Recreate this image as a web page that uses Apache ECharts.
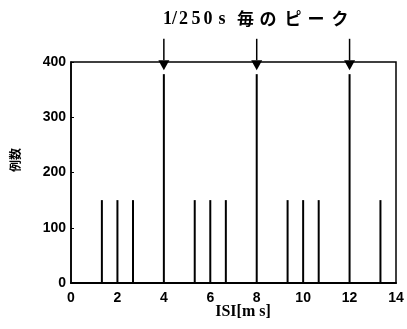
<!DOCTYPE html>
<html>
<head>
<meta charset="utf-8">
<script src="https://cdn.jsdelivr.net/npm/echarts@6/dist/echarts.min.js"></script>
<style>html,body{margin:0;padding:0;background:#fff}#c{width:407px;height:329px}</style>
</head>
<body>
<div id="c"></div>
<script>
const isiValues = [1.33, 2, 2.67, 4, 5.33, 6, 6.67, 8, 9.33, 10, 10.67, 12, 13.33];
const counts    = [150, 150, 150, 378, 150, 150, 150, 378, 150, 150, 150, 378, 150];
const arrowX    = [4, 8, 12];
const arrowFrom = [442, 442, 442];
const arrowTo   = [385, 385, 385];
const xTicks = [0, 2, 4, 6, 8, 10, 12, 14];
const yTicks = [0, 100, 200, 300, 400];
const titleLatin = ['1', '/', '2', '5', '0', 's'];
const titleKana  = ['毎', 'の', 'ピ', 'ー', 'ク'];
const xName = 'ISI[m s]';
const yName = '例数';

const chart = echarts.init(document.getElementById('c'));
const labelFont = {color:'#000', fontFamily:'Liberation Sans, Arial, sans-serif', fontWeight:'bold', fontSize:14};

const latinX = [167.5, 174.5, 183.5, 196, 208, 222];
const kanaX  = [245.5, 268, 293, 316, 340];
const titleEls = [];
titleLatin.forEach((ch, i) => titleEls.push({type:'text', x:latinX[i], y:19,
  style:{text:ch, fill:'#000', font:'bold 18px "Liberation Serif", serif', textAlign:'center', textVerticalAlign:'middle'}}));
titleKana.forEach((ch, i) => titleEls.push({type:'text', x:kanaX[i], y:19,
  style:{text:ch, fill:'#000', font:'bold 17px "Noto Sans CJK JP", sans-serif', textAlign:'center', textVerticalAlign:'middle'}}));

chart.setOption({
  animation:false,
  backgroundColor:'#fff',
  graphic:[
    {type:'group', children:titleEls},
    {type:'text', x:243, y:312, style:{text:xName, fill:'#000', font:'bold 16px "Liberation Serif", serif', textAlign:'center', textVerticalAlign:'middle'}},
    {type:'text', x:15, y:160, rotation:Math.PI/2, style:{text:yName, fill:'#000', font:'bold 12px "Noto Sans CJK JP", sans-serif', textAlign:'center', textVerticalAlign:'middle'}}
  ],
  grid:{left:71, right:11, top:62, bottom:46, show:true, borderColor:'#000', borderWidth:1.5, backgroundColor:'transparent'},
  xAxis:{type:'value', min:xTicks[0], max:xTicks[xTicks.length-1], interval:2,
    axisLine:{show:true, lineStyle:{color:'#000', width:2}},
    axisTick:{show:false}, splitLine:{show:false},
    axisLabel:Object.assign({}, labelFont, {margin:8})},
  yAxis:{type:'value', min:yTicks[0], max:yTicks[yTicks.length-1], interval:100,
    axisLine:{show:true, lineStyle:{color:'#000', width:1.5}},
    axisTick:{show:true, inside:true, length:3, lineStyle:{color:'#000', width:1}},
    splitLine:{show:false},
    axisLabel:Object.assign({}, labelFont, {margin:5})},
  series:[
    {type:'bar', data:isiValues.map((x,i)=>[x, counts[i]]), barWidth:2,
      itemStyle:{color:'#000'}, silent:true},
    {type:'custom', clip:false, silent:true,
      data:arrowX.map((x,i)=>[x, arrowFrom[i], arrowTo[i]]),
      renderItem:function(params, api){
        const p1 = api.coord([api.value(0), api.value(1)]);
        const p2 = api.coord([api.value(0), api.value(2)]);
        const h = 10, w = 5.5;
        return {type:'group', children:[
          {type:'line', shape:{x1:p1[0], y1:p1[1], x2:p2[0], y2:p2[1]-h}, style:{stroke:'#000', lineWidth:1.5}},
          {type:'polygon', shape:{points:[[p2[0]-w, p2[1]-h],[p2[0]+w, p2[1]-h],[p2[0], p2[1]]]}, style:{fill:'#000'}}
        ]};
      }}
  ]
});
</script>
</body>
</html>
